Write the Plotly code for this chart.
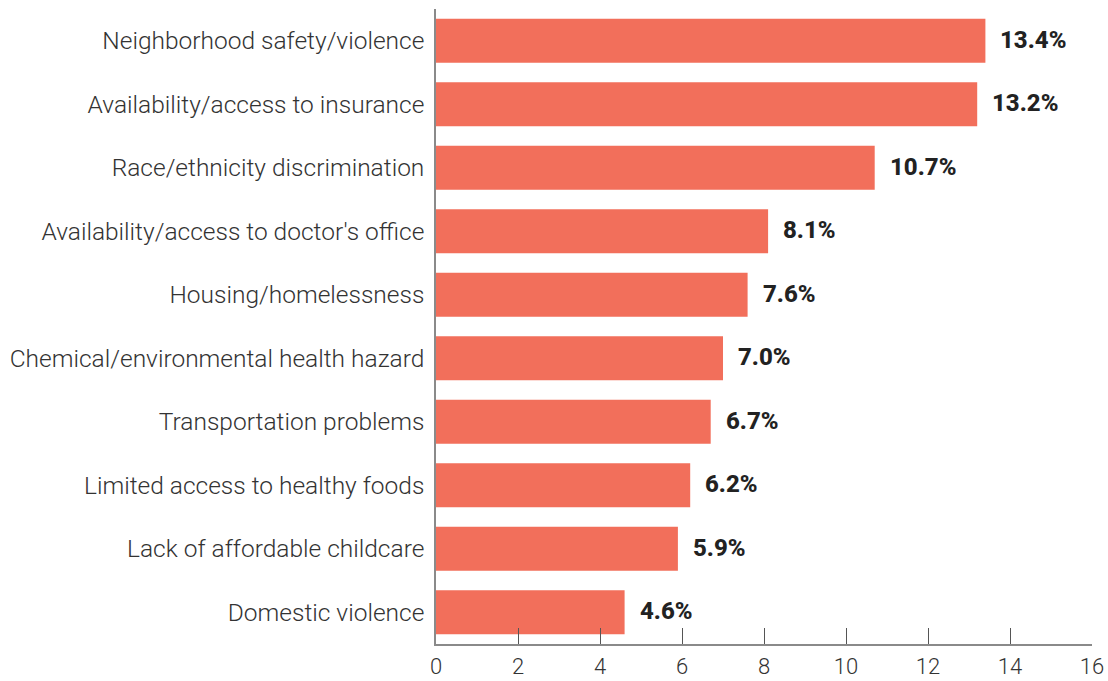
import plotly.graph_objects as go

categories = [
    "Neighborhood safety/violence",
    "Availability/access to insurance",
    "Race/ethnicity discrimination",
    "Availability/access to doctor's office",
    "Housing/homelessness",
    "Chemical/environmental health hazard",
    "Transportation problems",
    "Limited access to healthy foods",
    "Lack of affordable childcare",
    "Domestic violence",
]
values = [13.4, 13.2, 10.7, 8.1, 7.6, 7.0, 6.7, 6.2, 5.9, 4.6]
x_ticks = [0, 2, 4, 6, 8, 10, 12, 14, 16]

bar_color = "#F26F5B"
text_color = "#333333"
axis_color = "#8a8a8a"

fig = go.Figure(
    go.Bar(
        x=values,
        y=categories,
        orientation="h",
        marker=dict(color=bar_color, line=dict(width=0)),
        hoverinfo="skip",
    )
)

# value labels just past the end of each bar
for cat, val in zip(categories, values):
    fig.add_annotation(
        x=val, y=cat, text=f"{val:.1f}%",
        xanchor="left", yanchor="middle", xshift=13, yshift=1, showarrow=False,
        font=dict(family="Roboto", size=24, color="#222222", weight=800),
    )

fig.update_layout(
    width=1108, height=681,
    margin=dict(l=436, r=16, t=9, b=37),
    plot_bgcolor="white", paper_bgcolor="white",
    bargap=0.31,
    showlegend=False,
    font=dict(family="Roboto", color=text_color),
)
fig.update_xaxes(
    range=[0, 16], tickvals=x_ticks, ticktext=[str(t) for t in x_ticks],
    automargin=False,
    showgrid=False, zeroline=False,
    showline=True, linecolor=axis_color, linewidth=1.5,
    ticks="inside", ticklen=16, tickcolor="#555555", tickwidth=1,
    ticklabelstandoff=2,
    tickfont=dict(family="Roboto", size=22, color=text_color, weight=300),
)
fig.update_yaxes(
    categoryorder="array", categoryarray=categories[::-1],
    automargin=False,
    showgrid=False, zeroline=False,
    showline=True, linecolor=axis_color, linewidth=1.5,
    ticks="", ticklabelstandoff=5,
    tickfont=dict(family="Roboto", size=24.5, color=text_color, weight=300),
)

fig.write_html("out.html")
